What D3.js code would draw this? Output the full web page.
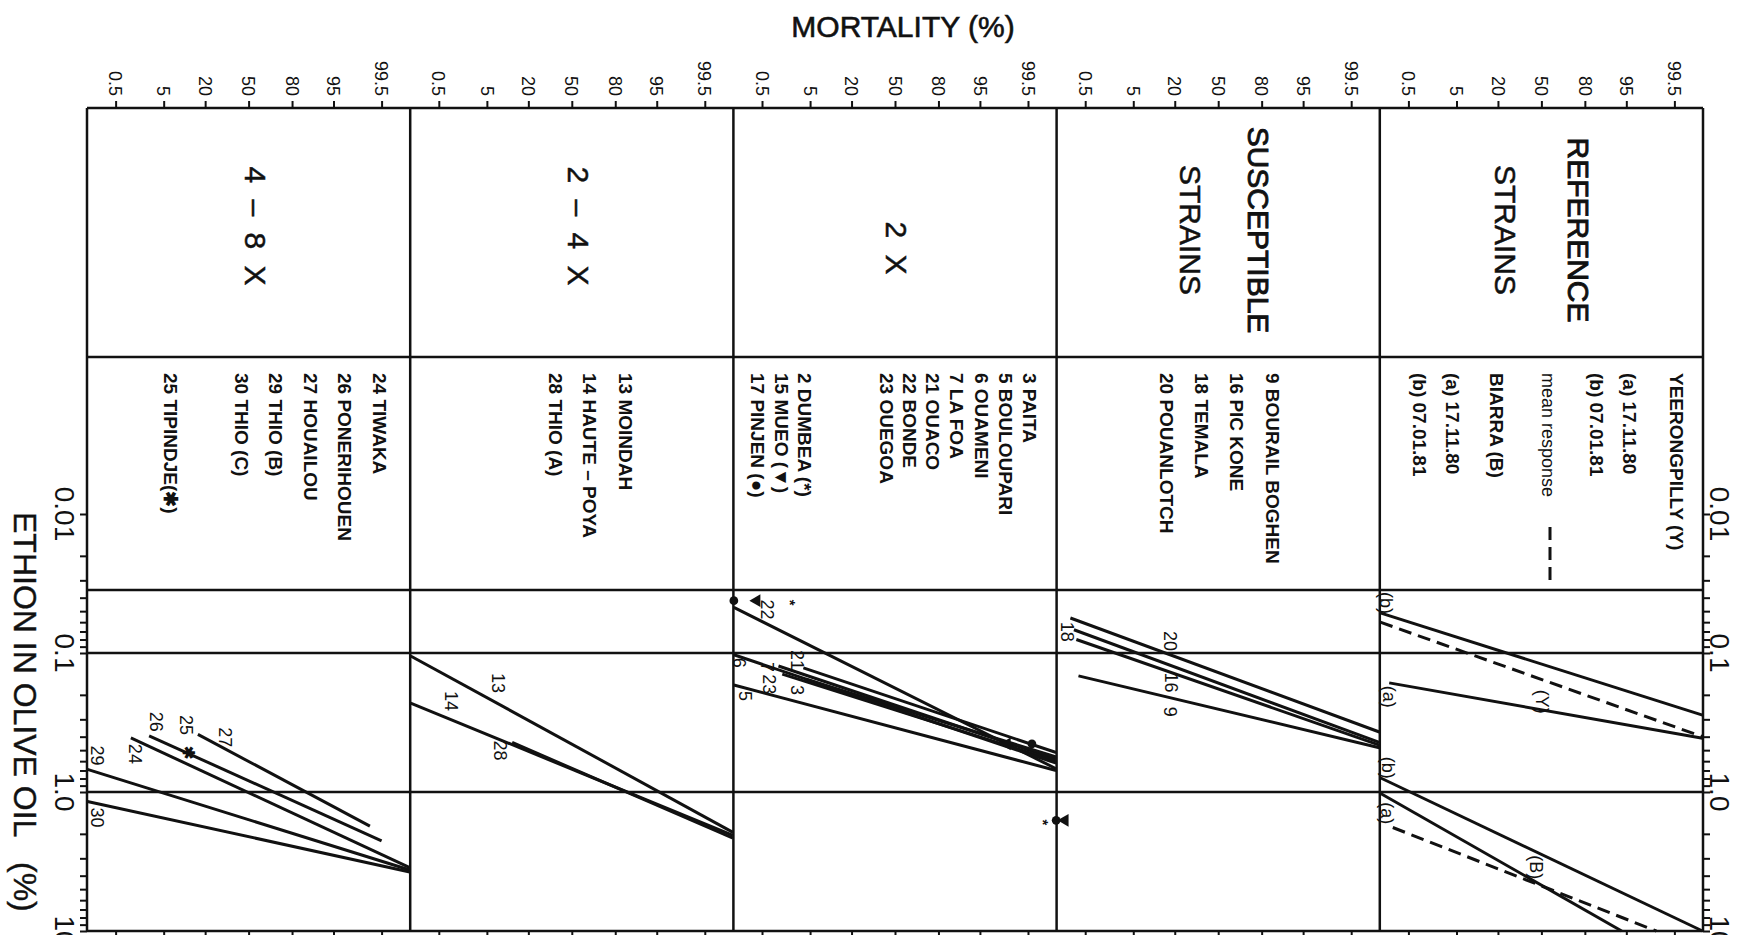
<!DOCTYPE html>
<html>
<head>
<meta charset="utf-8">
<script src="https://cdnjs.cloudflare.com/ajax/libs/d3/7.8.5/d3.min.js"></script>
<style>
  body { margin: 0; background: #fff; }
  svg { display: block; font-family: "Liberation Sans", Arial, sans-serif; }
</style>
</head>
<body>
<svg width="1749" height="935"></svg>
<script>
// ---- data ----
const mortTicks  = [0.5, 5, 20, 50, 80, 95, 99.5];
const mortLabels = ["0.5", "5", "20", "50", "80", "95", "99.5"];
const concTicks  = [0.01, 0.02, 0.03, 0.04, 0.05, 0.06, 0.07, 0.08, 0.09,
                    0.1, 0.2, 0.3, 0.4, 0.5, 0.6, 0.7, 0.8, 0.9,
                    1, 2, 3, 4, 5, 6, 7, 8, 9, 10];
const concMajor  = [0.01, 0.1, 1, 10];
const concLabels = ["0.01", "0.1", "1.0", "10"];
const guideConc  = [0.0352, 0.1, 1];

const panelTitles = [["4 – 8 X"], ["2 – 4 X"], ["2 X"], ["SUSCEPTIBLE", "STRAINS"], ["REFERENCE", "STRAINS"]];

const strains48  = ["24 TIWAKA", "26 PONERIHOUEN", "27 HOUAILOU", "29 THIO (B)", "30 THIO (C)", "25 TIPINDJE(✱)"];
const strains24  = ["13 MOINDAH", "14 HAUTE – POYA", "28 THIO (A)"];
const strains2x  = ["3 PAITA", "5 BOULOUPARI", "6 OUAMENI", "7 LA FOA", "21 OUACO", "22 BONDE", "23 OUEGOA",
                    "2 DUMBEA (*)", "15 MUEO (▼)", "17 PINJEN (●)"];
const strainsSus = ["9 BOURAIL BOGHEN", "16 PIC KONE", "18 TEMALA", "20 POUANLOTCH"];
const strainsRef = ["YEERONGPILLY (Y)", "(a) 17.11.80", "(b) 07.01.81", "mean response",
                    "BIARRA (B)", "(a) 17.11.80", "(b) 07.01.81"];

// regression lines: [label, mortality1 %, conc1 %, mortality2 %, conc2 %]
const lines48 = [
  ["27", 16.3, 0.385, 99.06, 1.76],
  ["26", 2.7, 0.394, 99.5, 2.25],
  ["24", 1.13, 0.408, 99.91, 3.5],
  ["29", 0.09, 0.688, 99.91, 3.64],
  ["30", 0.09, 1.17, 99.91, 3.76]
];
const lines24 = [
  ["13", 0.09, 0.105, 99.91, 1.95],
  ["14", 0.09, 0.229, 99.91, 2.05],
  ["28", 12.4, 0.44, 99.91, 2.15]
];
const lines2x = [
  ["22", 0.09, 0.047, 99.91, 0.68],
  ["21", 3.8, 0.128, 99.91, 0.52],
  ["7", 1.2, 0.124, 99.91, 0.58],
  ["23", 1.45, 0.142, 99.91, 0.6],
  ["3", 4.2, 0.154, 99.91, 0.56],
  ["6", 0.09, 0.103, 99.91, 0.62],
  ["5", 0.09, 0.17, 99.91, 0.7]
];
const linesSus = [
  ["20", 0.21, 0.056, 99.91, 0.37],
  ["18", 0.26, 0.068, 99.91, 0.44],
  ["16", 0.3, 0.08, 99.91, 0.46],
  ["9", 0.34, 0.146, 99.91, 0.48]
];
const linesRef = [
  ["Yb", 0.09, 0.0515, 99.91, 0.28],
  ["Ymean", 0.09, 0.06, 99.91, 0.40],
  ["Ya", 0.16, 0.164, 99.91, 0.41],
  ["Bb", 0.09, 0.79, 99.91, 10],
  ["Ba", 0.09, 1.02, 94, 10],
  ["Bmean", 0.2, 1.8, 98.7, 10]
];
const meanLines = ["Ymean", "Bmean"];

// single observations: [symbol, mortality %, conc %]
const points2x = [
  ["●", 0.09, 0.042], ["▼", 0.37, 0.042], ["*", 2.1, 0.042],
  ["●", 99.6, 0.45], ["▼", 98.5, 0.45],
  ["*", 99.8, 1.6], ["●", 99.91, 1.6], ["▼", 99.95, 1.6]
];
const points48 = [["✱", 12.1, 0.507]];

// ---- helpers ----
function probit(p) {
  const a = [-39.69683028665376, 220.9460984245205, -275.9285104469687, 138.357751867269, -30.66479806614716, 2.506628277459239];
  const b = [-54.47609879822406, 161.5858368580409, -155.6989798598866, 66.80131188771972, -13.28068155288572];
  const c = [-0.007784894002430293, -0.3223964580411365, -2.400758277161838, -2.549671344744514, 4.374664141464968, 2.938163982698783];
  const d = [0.007784695709041462, 0.3224671290700398, 2.445134137142996, 3.754408661907416];
  const pl = 0.02425;
  if (p < pl) {
    const q = Math.sqrt(-2 * Math.log(p));
    return (((((c[0]*q+c[1])*q+c[2])*q+c[3])*q+c[4])*q+c[5]) / ((((d[0]*q+d[1])*q+d[2])*q+d[3])*q+1);
  }
  if (p > 1 - pl) {
    const q = Math.sqrt(-2 * Math.log(1 - p));
    return -(((((c[0]*q+c[1])*q+c[2])*q+c[3])*q+c[4])*q+c[5]) / ((((d[0]*q+d[1])*q+d[2])*q+d[3])*q+1);
  }
  const q = p - 0.5, r = q * q;
  return (((((a[0]*r+a[1])*r+a[2])*r+a[3])*r+a[4])*r+a[5])*q / (((((b[0]*r+b[1])*r+b[2])*r+b[3])*r+b[4])*r+1);
}

// vertical (rotated) text, x is the glyph centre
function vtext(sel, x, yy, str, anchor, size, weight) {
  return sel.append("text")
    .attr("transform", "translate(" + x + "," + yy + ") rotate(90)")
    .attr("dy", "0.35em")
    .attr("text-anchor", anchor)
    .attr("font-size", size)
    .attr("font-weight", weight || "normal")
    .attr("fill", "#111")
    .text(str);
}

const svg = d3.select("svg");
const left0 = 87, pw = 323.2, top0 = 108, div0 = 357, bot0 = 931;
const right0 = left0 + 5 * pw;

const y = d3.scaleLog().domain([0.01, 10]).range([514, 931]);
const zx = d3.range(5).map(i => d3.scaleLinear().domain([-3.13, 3.13]).range([left0 + i * pw, left0 + (i + 1) * pw]));
const X = (i, m) => zx[i](probit(m / 100));

// frame
const frame = svg.append("g").attr("stroke", "#111").attr("stroke-width", 2.5);
d3.range(6).forEach(k => {
  frame.append("line").attr("x1", left0 + k * pw).attr("x2", left0 + k * pw)
    .attr("y1", top0).attr("y2", bot0);
});
[top0, div0].concat(guideConc.map(c => y(c))).concat([bot0]).forEach(yy => {
  frame.append("line").attr("x1", left0).attr("x2", right0).attr("y1", yy).attr("y2", yy);
});

// mortality axes (probit) on top and bottom of every panel
zx.forEach((s, i) => {
  const tv = mortTicks.map(m => probit(m / 100));
  svg.append("g").attr("transform", "translate(0," + top0 + ")")
    .call(d3.axisTop(s).tickValues(tv).tickSize(7).tickSizeOuter(0).tickFormat(""))
    .call(g => g.select(".domain").remove())
    .call(g => g.selectAll(".tick line").attr("stroke", "#111").attr("stroke-width", 2));
  svg.append("g").attr("transform", "translate(0," + bot0 + ")")
    .call(d3.axisBottom(s).tickValues(tv).tickSize(8).tickSizeOuter(0).tickFormat(""))
    .call(g => g.select(".domain").remove())
    .call(g => g.selectAll(".tick line").attr("stroke", "#111").attr("stroke-width", 2));
  mortTicks.forEach((m, j) => vtext(svg, X(i, m), top0 - 12, mortLabels[j], "end", 18));
});

// concentration axes (log) left and right
svg.append("g").attr("transform", "translate(" + left0 + ",0)")
  .call(d3.axisLeft(y).tickValues(concTicks).tickSize(7).tickFormat(""))
  .call(g => g.select(".domain").remove())
  .call(g => g.selectAll(".tick line").attr("stroke", "#111").attr("stroke-width", 2));
svg.append("g").attr("transform", "translate(" + right0 + ",0)")
  .call(d3.axisRight(y).tickValues(concTicks).tickSize(7).tickFormat(""))
  .call(g => g.select(".domain").remove())
  .call(g => g.selectAll(".tick line").attr("stroke", "#111").attr("stroke-width", 2));
concMajor.forEach((c, j) => {
  vtext(svg, 65, y(c), concLabels[j], "middle", 28);
  vtext(svg, 1720, y(c), concLabels[j], "middle", 28);
});

// axis titles
svg.append("text").attr("x", 903).attr("y", 37).attr("text-anchor", "middle")
  .attr("font-size", 30).attr("fill", "#111").attr("stroke", "#111").attr("stroke-width", 0.6)
  .text("MORTALITY (%)");
vtext(svg, 25, 512, "ETHION IN OLIVE OIL", "start", 32).attr("stroke", "#111").attr("stroke-width", 0.4);
vtext(svg, 25, 862, "(%)", "start", 32).attr("stroke", "#111").attr("stroke-width", 0.4);

// panel titles
const titleX = [[255], [578], [896], [1258, 1190], [1578, 1505]];
const titleY = [228, 228, 250, 230, 230];
panelTitles.forEach((t, i) => {
  t.forEach((s, k) => {
    const tt = vtext(svg, titleX[i][k], titleY[i], s, "middle", 30)
      .attr("stroke", "#111").attr("stroke-width", i >= 3 && k === 0 ? 0.9 : 0.5);
    if (i < 3) tt.attr("letter-spacing", 4);
  });
});

// strain lists
const listX = [
  [380, 345, 311, 276, 242, 171],
  [626, 590, 556],
  [1030, 1006, 982, 957, 933, 910, 887, 805, 782, 758],
  [1273, 1237, 1202, 1167],
  [1677, 1630, 1597, 1548, 1497, 1453, 1420]
];
[strains48, strains24, strains2x, strainsSus, strainsRef].forEach((list, i) => {
  list.forEach((s, k) => {
    const mean = s === "mean response";
    vtext(svg, listX[i][k], 373, s, "start", mean ? 18 : 19, mean ? "normal" : "bold");
  });
});
// legend dash for the mean response
svg.append("line").attr("x1", 1550).attr("x2", 1550).attr("y1", 527).attr("y2", 582)
  .attr("stroke", "#111").attr("stroke-width", 3).attr("stroke-dasharray", "13,7");

// regression lines
const lineOffsets = {
  "27": [27, 3], "26": [7, -14], "24": [4, 16], "29": [10, -14], "30": [10, 16],
  "13": [88, 27], "14": [41, -2], "28": [-12, 8],
  "22": [33, 2], "21": [-6, -8], "7": [-11, 1], "23": [-13, 10], "3": [-8, 11], "6": [5, 8], "5": [11, 11],
  "20": [100, 23], "18": [-7, 2], "16": [95, 43], "9": [92, 36]
};
const refLabels = [["Yb", "(b)", 6, -10], ["Ya", "(a)", 0, 14], ["Ya", "(Y)", 153, 19],
                   ["Bb", "(b)", 8, -10], ["Ba", "(a)", 7, 20], ["Ba", "(B)", 156, 74]];

const plot = svg.append("g").attr("stroke", "#111").attr("stroke-width", 3).attr("fill", "none");
[lines48, lines24, lines2x, linesSus, linesRef].forEach((arr, i) => {
  arr.forEach(d => {
    const ln = plot.append("line")
      .attr("x1", X(i, d[1])).attr("y1", y(d[2]))
      .attr("x2", X(i, d[3])).attr("y2", y(d[4]));
    if (meanLines.includes(d[0])) ln.attr("stroke-dasharray", "13,7");
    const off = lineOffsets[d[0]];
    if (off) vtext(svg, X(i, d[1]) + off[0], y(d[2]) + off[1], d[0], "middle", 18);
  });
});
refLabels.forEach(r => {
  const d = linesRef.find(l => l[0] === r[0]);
  vtext(svg, X(4, d[1]) + r[2], y(d[2]) + r[3], r[1], "middle", 18);
});

// single observation symbols
const sym = svg.append("g").attr("fill", "#111");
function drawSymbol(i, d) {
  const px = X(i, d[1]), py = y(d[2]);
  if (d[0] === "●") {
    sym.append("path").attr("d", d3.symbol(d3.symbolCircle, 60)())
      .attr("transform", "translate(" + px + "," + py + ")");
  } else if (d[0] === "▼") {
    sym.append("path").attr("d", d3.symbol(d3.symbolTriangle, 70)())
      .attr("transform", "translate(" + px + "," + py + ") rotate(-90)");
  } else {
    vtext(sym, px, py + 2, d[0], "middle", d[0] === "✱" ? 16 : 15, "bold");
  }
}
points2x.forEach(d => drawSymbol(2, d));
points48.forEach(d => drawSymbol(0, d));
vtext(svg, X(0, points48[0][1]) - 2, y(points48[0][2]) - 26, "25", "middle", 18);
</script>
</body>
</html>
